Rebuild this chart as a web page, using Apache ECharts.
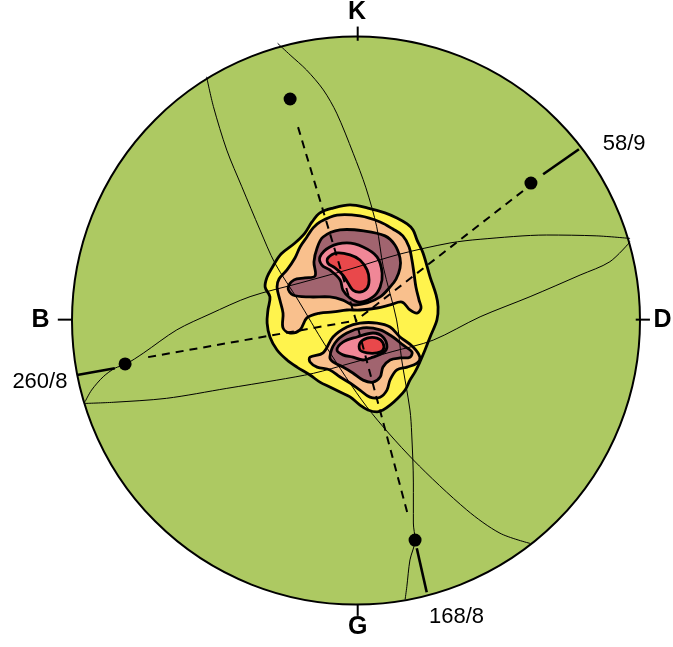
<!DOCTYPE html>
<html>
<head>
<meta charset="utf-8">
<script src="https://cdn.jsdelivr.net/npm/echarts@6/dist/echarts.min.js"></script>
<style>
html, body { margin: 0; padding: 0; background: #ffffff; }
#chart { width: 673px; height: 647px; }
</style>
</head>
<body>
<div id="chart"></div>
<script>
// Net coordinates: centre at (0,0), primitive circle radius 100, x to D (east), y to K (north).
const netRadius = 100;

// Compass letters around the primitive
const directionLabels = ['K', 'D', 'G', 'B'];
const directionLabelPos = [[0.4, 108.5], [107.9, 0.2], [0.6, -108.1], [-111.1, 0.2]];
const directionTicks = [
  [[0.6, 98.5], [0.6, 103.5]],
  [[98.5, 0.3], [103.5, 0.3]],
  [[0.6, -100], [0.6, -104]],
  [[-100, 0.3], [-105, 0.3]]
];

// Lineation poles (dots)
const lineationPoints = [[-23.2, 78.0], [61.6, 48.4], [-81.3, -15.3], [20.8, -77.3]];

// Dashed traces from each pole towards the centre
const dashedTraces = [
  [[-20.4, 68.1], [0, 0]],
  [[58.8, 45.6], [0, 0]],
  [[-73.2, -12.9], [0, 0]],
  [[18.0, -67.4], [0, 0]]
];

// Solid traces from the primitive to the labelled poles
const solidTraces = [
  [[78.5, 60.3], [65.9, 51.5]],
  [[-98.2, -19.2], [-84.9, -16.8]],
  [[24.9, -95.7], [21.4, -80.2]]
];
const traceLabels = ['58/9', '260/8', '168/8'];
const traceLabelPos = [[94.4, 62.1], [-111.3, -21.7], [35.4, -104.3]];

// Great circles
const greatCircleA = [[-52.6, 85.8], [-50.2, 75.3], [-45.5, 60.0], [-40.2, 47.1], [-33.8, 31.9], [-28.5, 20.1],
  [-20.4, 7.2], [-10.9, -8.6], [3.8, -30.4], [20.2, -49.1], [39.0, -66.7], [50.7, -74.9], [61.3, -78.5]];
const greatCircleB = [[-27.6, 97.6], [-23.2, 93.5], [-17.4, 88.2], [-11.5, 81.2], [-6.8, 73.0], [-1.0, 58.9],
  [3.5, 46.7], [7.3, 33.0], [9.6, 18.9], [14.3, 0.2], [16.1, -13.9], [19.0, -31.5], [19.6, -39.6],
  [20.2, -57.2], [20.2, -71.3], [20.8, -77.3], [19.0, -84.3], [17.9, -93.7], [17.3, -98.2]];
const greatCircleC = [[-95.4, -29.2], [-85.5, -28.8], [-66.7, -27.4], [-45.5, -23.9], [-27.9, -21.0], [-15.0, -18.6],
  [-2.1, -15.1], [13.0, -10.9], [27.2, -6.9], [43.7, 1.3], [61.3, 8.4], [78.9, 16.0], [89.4, 20.7], [96.5, 27.7]];
const greatCircleD = [[-95.4, -28.6], [-93.1, -24.5], [-89.0, -19.8], [-84.9, -16.8], [-81.1, -15.4], [-74.9, -11.5],
  [-63.1, -3.3], [-51.4, 2.3], [-37.3, 8.4], [-19.7, 13.2], [-2.1, 18.1], [15.5, 23.4], [33.1, 27.3],
  [43.7, 28.6], [67.1, 30.1], [84.8, 29.8], [96.5, 28.9]];
const greatCircles = [greatCircleA, greatCircleB, greatCircleC, greatCircleD];

// Density contours (outer to inner)
const contourOuter = [[-12.7, 37.9], [-8.1, 39.6], [-2.1, 40.7], [4.2, 39.6], [10.2, 37.9], [14.4, 36.1], [18.0, 34.0],
  [20.1, 31.9], [21.5, 28.3], [23.6, 23.8], [26.1, 15.3], [28.2, 9.0], [28.9, 4.8], [28.5, 0.2], [26.1, -5.8],
  [24.3, -10.4], [22.5, -14.6], [20.8, -18.1], [19.0, -21.0], [17.3, -24.5], [14.8, -27.3], [12.0, -29.8],
  [9.5, -31.5], [7.4, -32.2], [4.2, -31.5], [1.4, -29.8], [-2.1, -26.9], [-5.6, -25.2], [-9.2, -23.4],
  [-12.7, -21.7], [-16.2, -19.2], [-20.8, -16.4], [-24.3, -13.9], [-27.8, -10.4], [-30.3, -5.8], [-31.3, -0.9],
  [-31.0, 3.7], [-30.3, 8.3], [-32.0, 11.8], [-31.3, 15.3], [-29.6, 18.5], [-26.4, 23.4], [-21.5, 27.3],
  [-18.0, 30.8], [-15.5, 34.7]];
const contourSecondUpper = [[-12.7, 34.7], [-6.7, 37.1], [1.4, 36.8], [8.5, 34.7], [13.0, 32.2], [16.5, 29.8],
  [18.7, 25.9], [19.7, 21.3], [20.4, 16.7], [21.1, 11.8], [22.2, 7.2], [22.9, 4.4], [21.5, 2.6], [19.0, 3.7],
  [16.2, 6.5], [12.0, 5.5], [7.4, 4.4], [1.4, 3.7], [-3.2, 3.7], [-8.1, 3.0], [-12.7, 2.6], [-17.3, 0.9],
  [-19.7, -3.3], [-23.2, -4.4], [-25.7, -2.6], [-25.7, 2.6], [-26.8, 7.2], [-27.8, 11.8], [-27.1, 14.6],
  [-24.3, 17.8], [-21.5, 22.0], [-19.7, 25.9], [-17.3, 29.4], [-15.1, 32.6]];
const contourSecondLower = [[-16.2, -12.9], [-11.6, -11.4], [-8.1, -5.8], [-3.2, -2.3], [1.4, -0.9], [7.4, -0.9],
  [12.0, -2.3], [15.5, -5.8], [20.1, -9.3], [22.5, -12.9], [21.5, -15.0], [18.0, -16.4], [14.4, -17.4],
  [12.0, -20.9], [10.9, -24.5], [8.5, -27.0], [4.9, -27.0], [1.4, -24.5], [-2.1, -22.0], [-5.6, -19.9],
  [-9.2, -17.4], [-13.7, -16.4], [-16.2, -14.6]];
const contourThirdUpper = [[-23.9, 11.4], [-21.8, 14.3], [-18.0, 15.0], [-14.4, 15.7], [-14.8, 20.6], [-13.7, 25.5],
  [-11.6, 29.4], [-5.6, 31.9], [3.2, 31.5], [10.2, 29.8], [13.7, 26.6], [15.5, 22.0], [15.5, 18.5], [14.1, 14.6],
  [12.0, 11.8], [8.5, 8.3], [3.9, 6.2], [-1.1, 5.5], [-4.6, 7.2], [-9.2, 8.3], [-16.2, 8.3], [-22.2, 9.0]];
const contourThirdLower = [[-9.2, -12.9], [-7.4, -7.9], [-3.2, -4.4], [2.5, -2.6], [8.5, -3.3], [13.0, -5.8],
  [16.5, -8.6], [19.7, -11.1], [19.0, -12.9], [15.5, -13.2], [12.0, -13.9], [9.5, -16.4], [8.5, -19.9],
  [6.0, -21.7], [2.5, -21.0], [-1.1, -18.5], [-4.6, -16.4], [-8.1, -14.6]];
const contourFourthUpper = [[-12.7, 22.4], [-9.2, 25.9], [-3.2, 27.3], [2.5, 25.9], [7.4, 22.4], [9.2, 16.7],
  [8.5, 11.8], [6.0, 8.3], [1.4, 6.5], [-2.1, 7.9], [-4.6, 10.7], [-5.6, 14.3], [-9.2, 17.8], [-12.0, 19.5]];
const contourFourthLower = [[-6.7, -10.4], [-4.6, -7.6], [0.4, -5.8], [6.0, -4.4], [9.5, -5.8], [10.9, -9.3],
  [9.5, -11.4], [6.0, -12.9], [2.5, -13.9], [-1.1, -12.9], [-4.6, -12.1]];
const contourPeakUpper = [[-9.9, 22.0], [-6.7, 23.8], [-2.1, 23.1], [1.4, 21.3], [3.9, 17.8], [4.6, 14.3],
  [3.9, 11.4], [1.4, 10.0], [-1.1, 10.7], [-2.8, 13.2], [-4.6, 16.0], [-7.4, 18.5], [-9.9, 20.2]];
const contourPeakLower = [[1.4, -7.9], [3.9, -6.2], [7.4, -6.2], [9.5, -7.9], [9.5, -10.4], [7.4, -11.4],
  [3.9, -11.4], [1.4, -10.4]];

const contourColors = ['#fff34d', '#f9c08d', '#a1646f', '#f08797', '#e9484b'];
const contourLayers = [
  { level: 0, pts: contourOuter },
  { level: 1, pts: contourSecondUpper },
  { level: 1, pts: contourSecondLower },
  { level: 2, pts: contourThirdUpper },
  { level: 2, pts: contourThirdLower },
  { level: 3, pts: contourFourthUpper },
  { level: 3, pts: contourFourthLower },
  { level: 4, pts: contourPeakUpper },
  { level: 4, pts: contourPeakLower }
];

const netFill = '#adc962';
const textFont = '"Liberation Sans", Arial, sans-serif';

const chart = echarts.init(document.getElementById('chart'), null, { renderer: 'canvas' });

function primitiveSeries(fill, stroke, z) {
  return {
    type: 'custom', coordinateSystem: 'cartesian2d', z: z, silent: true,
    data: [[0, 0]],
    renderItem: (params, api) => {
      const c = api.coord([0, 0]);
      const e = api.coord([netRadius, 0]);
      return {
        type: 'circle',
        shape: { cx: c[0], cy: c[1], r: e[0] - c[0] },
        style: { fill: fill, stroke: stroke, lineWidth: 2 }
      };
    }
  };
}

function segmentSeries(segments, width, dashed, z) {
  return {
    type: 'custom', coordinateSystem: 'cartesian2d', z: z, silent: true,
    data: segments.map(s => s[0]),
    renderItem: (params, api) => {
      const s = segments[params.dataIndex];
      const a = api.coord(s[0]);
      const b = api.coord(s[1]);
      return {
        type: 'line',
        shape: { x1: a[0], y1: a[1], x2: b[0], y2: b[1] },
        style: { stroke: '#000', lineWidth: width, lineDash: dashed ? [8, 6] : null, fill: null }
      };
    }
  };
}

function textSeries(names, positions, bold, size, z) {
  return {
    type: 'custom', coordinateSystem: 'cartesian2d', z: z, silent: true,
    data: positions,
    renderItem: (params, api) => {
      const p = api.coord(positions[params.dataIndex]);
      return {
        type: 'text',
        x: p[0], y: p[1],
        style: {
          text: names[params.dataIndex], fill: '#000',
          font: (bold ? 'bold ' : '') + size + 'px ' + textFont,
          align: 'center', verticalAlign: 'middle'
        }
      };
    }
  };
}

const series = [];
series.push(primitiveSeries(netFill, null, 1));

series.push({
  type: 'custom', coordinateSystem: 'cartesian2d', z: 2, silent: true,
  data: contourLayers.map(c => c.pts[0]),
  renderItem: (params, api) => {
    const layer = contourLayers[params.dataIndex];
    return {
      type: 'polygon',
      shape: { points: layer.pts.map(p => api.coord(p)), smooth: 0.35 },
      style: { fill: contourColors[layer.level], stroke: '#000', lineWidth: 2.8 }
    };
  }
});

greatCircles.forEach(gc => {
  series.push({
    type: 'line', data: gc, showSymbol: false, smooth: 0.3, clip: false, silent: true, z: 3,
    lineStyle: { color: '#000', width: 1 }
  });
});

series.push(segmentSeries(dashedTraces, 2, true, 4));
series.push(segmentSeries(solidTraces, 2.6, false, 4));

series.push({
  type: 'scatter', data: lineationPoints, symbol: 'circle', symbolSize: 13, z: 5, clip: false, silent: true,
  itemStyle: { color: '#000', opacity: 1 }
});

series.push(primitiveSeries('none', '#000', 6));
series.push(segmentSeries(directionTicks, 2, false, 6));
series.push(textSeries(directionLabels, directionLabelPos, true, 25, 7));
series.push(textSeries(traceLabels, traceLabelPos, false, 22, 7));

chart.setOption({
  animation: false,
  backgroundColor: '#ffffff',
  grid: { left: 72, top: 36.5, width: 568, height: 568 },
  xAxis: { type: 'value', min: -netRadius, max: netRadius, show: false },
  yAxis: { type: 'value', min: -netRadius, max: netRadius, show: false },
  series: series
});
</script>
</body>
</html>
